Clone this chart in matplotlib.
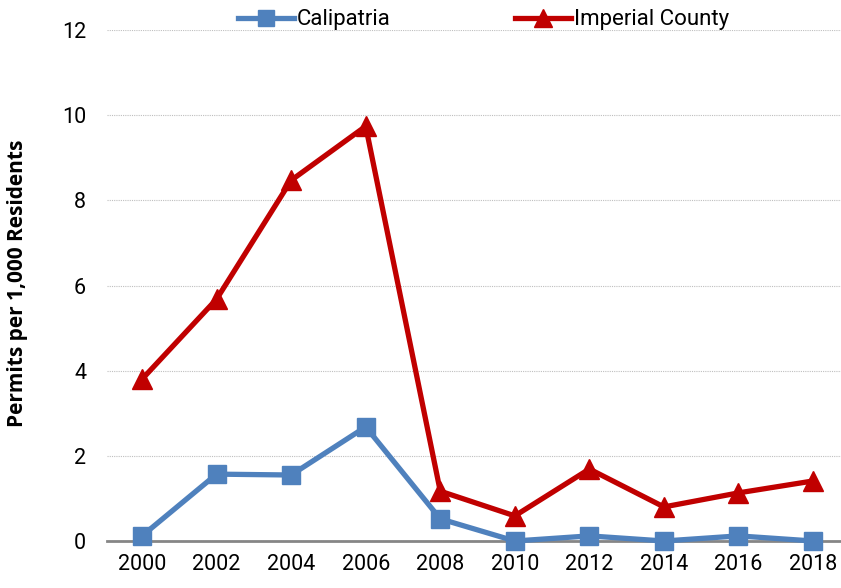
import matplotlib
matplotlib.use("Agg")
import matplotlib.pyplot as plt

plt.rcParams['font.family'] = ['Roboto', 'DejaVu Sans']

years = [2000, 2002, 2004, 2006, 2008, 2010, 2012, 2014, 2016, 2018]
calipatria = [0.12, 1.57, 1.55, 2.68, 0.52, 0.0, 0.12, 0.0, 0.12, 0.0]
imperial = [3.8, 5.68, 8.47, 9.74, 1.17, 0.59, 1.69, 0.8, 1.13, 1.41]
yticks = [0, 2, 4, 6, 8, 10, 12]

fig = plt.figure(figsize=(8.41, 5.88), dpi=100)
ax = fig.add_axes([107 / 841, 47 / 588, 1 - 107 / 841, 511 / 588])

ax.plot(years, calipatria, color='#4F81BD', lw=3.8, marker='s', ms=13,
        label='Calipatria', zorder=3, clip_on=False)
ax.plot(years, imperial, color='#C00000', lw=3.8, marker='^', ms=14,
        label='Imperial County', zorder=3, clip_on=False)

ax.set_ylim(0, 12)
ax.set_xlim(1999.06, 2018.75)
ax.set_yticks(yticks)
ax.set_xticks(years)
ax.tick_params(axis='both', length=0, labelsize=15.5, pad=9)
ax.tick_params(axis='y', pad=15)
ax.grid(axis='y', color='#BFBFBF', ls=(0, (1, 1)), lw=0.8)
for s in ['top', 'right', 'left']:
    ax.spines[s].set_visible(False)
ax.spines['bottom'].set_color('#868686')
ax.spines['bottom'].set_linewidth(2)
ax.set_axisbelow(True)

ax.set_ylabel('Permits per 1,000 Residents', fontsize=15, fontweight='bold',
              family=['Open Sans', 'DejaVu Sans'])
ax.yaxis.set_label_coords(-0.108, 0.505)

fig.legend(loc='center', bbox_to_anchor=(0.575, 0.966), ncol=2, frameon=False,
           fontsize=16, handlelength=2.5, handletextpad=0.15, columnspacing=5.6,
           markerscale=0.9)

fig.savefig('out.png', dpi=100)
